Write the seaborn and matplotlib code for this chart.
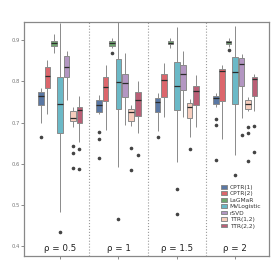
import pandas as pd
import matplotlib
matplotlib.use("Agg")
import matplotlib.pyplot as plt
import seaborn as sns

# groups and methods
rho_labels = ["ρ = 0.5", "ρ = 1", "ρ = 1.5", "ρ = 2"]
methods = ["CPTR(1)", "CPTR(2)", "LaGMaR", "MVLogistic", "rSVD", "TTR(1,2)", "TTR(2,2)"]
colors = ["#4e76b0", "#f0525a", "#66b066", "#5cc4d6", "#b58fc9", "#ffc9b4", "#c9506f"]

# box summaries, one value per rho group
# (lower whisker, q1, median, q3, upper whisker)
lo = {
    "CPTR(1)":    [0.700, 0.720, 0.680, 0.737],
    "CPTR(2)":    [0.720, 0.682, 0.714, 0.708],
    "LaGMaR":     [0.868, 0.880, 0.880, 0.884],
    "MVLogistic": [0.483, 0.593, 0.605, 0.621],
    "rSVD":       [0.754, 0.694, 0.714, 0.710],
    "TTR(1,2)":   [0.690, 0.691, 0.665, 0.728],
    "TTR(2,2)":   [0.653, 0.674, 0.690, 0.728],
}
q1 = {
    "CPTR(1)":    [0.742, 0.726, 0.726, 0.746],
    "CPTR(2)":    [0.785, 0.753, 0.762, 0.752],
    "LaGMaR":     [0.886, 0.887, 0.890, 0.891],
    "MVLogistic": [0.674, 0.732, 0.730, 0.746],
    "rSVD":       [0.810, 0.762, 0.779, 0.789],
    "TTR(1,2)":   [0.705, 0.704, 0.710, 0.734],
    "TTR(2,2)":   [0.698, 0.716, 0.742, 0.764],
}
med = {
    "CPTR(1)":    [0.764, 0.742, 0.751, 0.760],
    "CPTR(2)":    [0.812, 0.787, 0.803, 0.826],
    "LaGMaR":     [0.893, 0.893, 0.894, 0.895],
    "MVLogistic": [0.746, 0.799, 0.790, 0.822],
    "rSVD":       [0.835, 0.797, 0.819, 0.843],
    "TTR(1,2)":   [0.712, 0.725, 0.737, 0.745],
    "TTR(2,2)":   [0.731, 0.754, 0.777, 0.805],
}
q3 = {
    "CPTR(1)":    [0.775, 0.755, 0.760, 0.764],
    "CPTR(2)":    [0.834, 0.810, 0.818, 0.831],
    "LaGMaR":     [0.898, 0.898, 0.898, 0.898],
    "MVLogistic": [0.810, 0.854, 0.847, 0.860],
    "rSVD":       [0.862, 0.819, 0.841, 0.856],
    "TTR(1,2)":   [0.728, 0.732, 0.748, 0.754],
    "TTR(2,2)":   [0.737, 0.775, 0.788, 0.810],
}
hi = {
    "CPTR(1)":    [0.784, 0.768, 0.772, 0.771],
    "CPTR(2)":    [0.853, 0.841, 0.845, 0.841],
    "LaGMaR":     [0.914, 0.906, 0.906, 0.906],
    "MVLogistic": [0.942, 0.960, 0.931, 0.934],
    "rSVD":       [0.873, 0.868, 0.874, 0.866],
    "TTR(1,2)":   [0.738, 0.742, 0.758, 0.761],
    "TTR(2,2)":   [0.765, 0.800, 0.815, 0.818],
}
outliers = {
    "CPTR(1)":    [[0.666], [0.677, 0.660, 0.613], [0.666], [0.708, 0.694, 0.609]],
    "CPTR(2)":    [[], [], [], [0.661]],
    "LaGMaR":     [[], [0.868], [], [0.876]],
    "MVLogistic": [[0.435], [0.466], [0.540, 0.477], [0.573]],
    "rSVD":       [[], [], [], [0.669]],
    "TTR(1,2)":   [[0.644, 0.627, 0.589], [0.638, 0.586], [0.637], [0.690, 0.676, 0.608]],
    "TTR(2,2)":   [[0.637, 0.587], [0.622], [], [0.693, 0.628]],
}

# expand summaries into samples so seaborn computes the same box
rows = []
for m in methods:
    for g, lab in enumerate(rho_labels):
        vals = [lo[m][g]] + [q1[m][g]] * 10 + [med[m][g]] * 10 + [q3[m][g]] * 10 + [hi[m][g]] + outliers[m][g]
        for v in vals:
            rows.append({"rho": lab, "method": m, "auc": v})
df = pd.DataFrame(rows)

sns.set_style("ticks")
fig = plt.figure(figsize=(2.73, 2.73), dpi=100)
ax = fig.add_axes([0.088, 0.062, 0.897, 0.857])

sns.boxplot(data=df, x="rho", y="auc", hue="method", order=rho_labels, hue_order=methods,
            palette=colors, width=0.77, gap=0.12, linewidth=0.7, linecolor="#8a8a8a",
            showcaps=False, whis=1.5, ax=ax,
            medianprops=dict(color="#2b2b2b", linewidth=0.9),
            flierprops=dict(marker="o", markersize=1.6, markerfacecolor="#444444",
                            markeredgecolor="#444444"))

for xs in [0.5, 1.5, 2.5]:
    ax.axvline(xs, color="#9a9a9a", linestyle=":", linewidth=0.8, zorder=0)

for i, lab in enumerate(rho_labels):
    ax.text(i, 0.384, lab, ha="center", va="bottom", fontsize=6.3, color="#222222")

ax.set_xlim(-0.62, 3.58)
ax.set_ylim(0.376, 0.944)
ax.set_yticks([0.4, 0.5, 0.6, 0.7, 0.8, 0.9])
ax.set_yticklabels(["0.4", "0.5", "0.6", "0.7", "0.8", "0.9"])
ax.set_xticklabels([])
ax.set_xlabel("")
ax.set_ylabel("")
ax.tick_params(axis="both", length=2, width=0.6, colors="#777777", labelsize=3.8, pad=1)
for s in ax.spines.values():
    s.set_color("#888888")
    s.set_linewidth(0.9)

leg = ax.legend(loc="lower right", bbox_to_anchor=(0.985, 0.1), frameon=False,
                fontsize=4.2, handlelength=1.0, handleheight=0.6, labelspacing=0.25,
                handletextpad=0.5, borderpad=0.2)
for t in leg.get_texts():
    t.set_color("#333333")

fig.savefig("out.png", dpi=100)
